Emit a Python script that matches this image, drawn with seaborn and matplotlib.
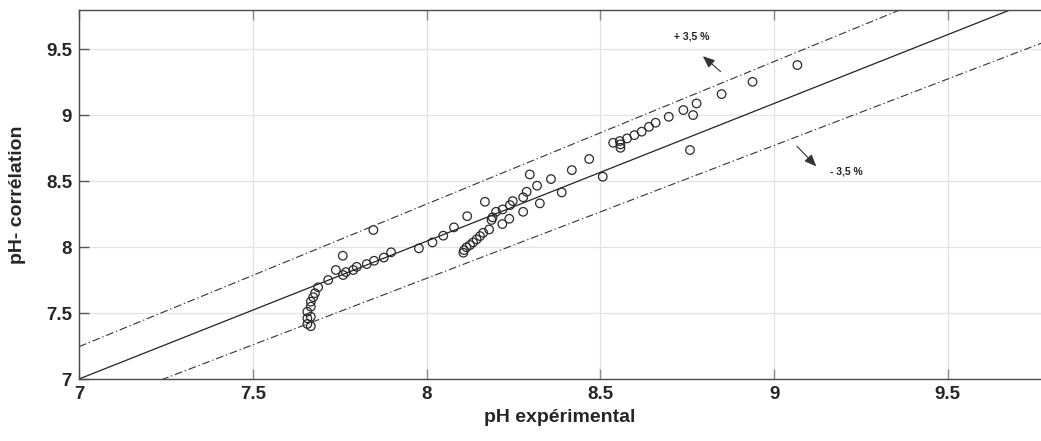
import numpy as np
import pandas as pd
import matplotlib
matplotlib.use("Agg")
import matplotlib.pyplot as plt
import seaborn as sns
from matplotlib import font_manager

# ---------------- data ----------------
ph_experimental = [
    7.657, 7.667, 7.657, 7.667, 7.657, 7.667, 7.667, 7.674, 7.679, 7.688,
    7.717, 7.739, 7.759, 7.760, 7.768, 7.789, 7.799, 7.828, 7.847, 7.849,
    7.877, 7.898, 7.978, 8.017, 8.048, 8.079, 8.117, 8.168,
    8.106, 8.108, 8.115, 8.125, 8.134, 8.144, 8.154, 8.163, 8.180, 8.187,
    8.190, 8.200, 8.219, 8.218, 8.238, 8.240, 8.248, 8.278, 8.278, 8.288,
    8.297, 8.318, 8.326, 8.358, 8.389, 8.418, 8.468, 8.507,
    8.537, 8.556, 8.558, 8.558, 8.577, 8.598, 8.619, 8.640, 8.659, 8.697,
    8.739, 8.767, 8.777, 8.758, 8.849, 8.938, 9.067,
]
ph_correlation = [
    7.417, 7.400, 7.460, 7.472, 7.510, 7.548, 7.586, 7.620, 7.650, 7.695,
    7.750, 7.826, 7.934, 7.788, 7.810, 7.826, 7.850, 7.871, 8.129, 7.896,
    7.920, 7.960, 7.990, 8.035, 8.086, 8.149, 8.234, 8.343,
    7.957, 7.977, 7.998, 8.015, 8.035, 8.058, 8.083, 8.108, 8.133, 8.205,
    8.225, 8.267, 8.285, 8.174, 8.214, 8.318, 8.348, 8.267, 8.377, 8.419,
    8.550, 8.465, 8.331, 8.515, 8.414, 8.583, 8.667, 8.533,
    8.790, 8.803, 8.778, 8.752, 8.823, 8.848, 8.874, 8.911, 8.942, 8.987,
    9.038, 9.000, 9.088, 8.735, 9.159, 9.252, 9.379,
]

# reference line and +/- 3.5 % bands
ref_x = [7.0, 9.8]
ref_y = [7.0, 9.923]
upper_y = [7.245, 10.270]
lower_y = [6.755, 9.576]

x_ticks = [7, 7.5, 8, 8.5, 9, 9.5]
y_ticks = [7, 7.5, 8, 8.5, 9, 9.5]
x_tick_labels = ["7", "7.5", "8", "8.5", "9", "9.5"]
y_tick_labels = ["7", "7.5", "8", "8.5", "9", "9.5"]

label_plus = "+ 3,5 %"
label_minus = "- 3,5 %"
x_label = "pH expérimental"
y_label = "pH- corrélation"

# ---------------- style ----------------
sns.set_theme(style="white")
names = {f.name for f in font_manager.fontManager.ttflist}
fam = ["Liberation Sans Narrow"] if "Liberation Sans Narrow" in names else ["Liberation Sans"]
plt.rcParams["font.family"] = fam + ["DejaVu Sans"]

fig = plt.figure(figsize=(10.41, 4.41), dpi=100)
ax = fig.add_axes([79 / 1041, (441 - 379) / 441, (1041 - 79) / 1041, (379 - 9.5) / 441])

df = pd.DataFrame({"exp": ph_experimental, "corr": ph_correlation})

sns.lineplot(x=ref_x, y=ref_y, ax=ax, color="#222222", linewidth=0.9, zorder=2)
sns.lineplot(x=ref_x, y=upper_y, ax=ax, color="#333333", linewidth=0.8,
             linestyle=(0, (7, 2.5, 1.2, 2.5)), zorder=2)
sns.lineplot(x=ref_x, y=lower_y, ax=ax, color="#333333", linewidth=0.8,
             linestyle=(0, (7, 2.5, 1.2, 2.5)), zorder=2)
sns.scatterplot(data=df, x="exp", y="corr", ax=ax, marker="o", s=38,
                facecolors="none", edgecolor="#2a2a2a", linewidth=0.9, zorder=3)

ax.set_xlim(7.0, 9.768)
ax.set_ylim(7.0, 9.8)
ax.set_xticks(x_ticks)
ax.set_xticklabels(x_tick_labels)
ax.set_yticks(y_ticks)
ax.set_yticklabels(y_tick_labels)
ax.grid(True, color="#e3e3e3", linewidth=0.9)
ax.set_axisbelow(True)

for side in ["left", "bottom", "top"]:
    ax.spines[side].set_visible(True)
    ax.spines[side].set_color("#4a4a4a")
    ax.spines[side].set_linewidth(1.0)
ax.spines["right"].set_visible(False)

ax.tick_params(axis="x", direction="in", length=7, width=1, color="#888888",
               top=True, bottom=True, labelsize=13.5, labelcolor="#262626", pad=5)
ax.tick_params(axis="y", direction="in", length=7, width=1, color="#555555",
               left=True, right=False, labelsize=13.5, labelcolor="#262626", pad=5)
for lab in ax.get_xticklabels() + ax.get_yticklabels():
    lab.set_fontweight("bold")

ax.set_xlabel(x_label, fontsize=14, fontweight="bold", color="#262626", labelpad=4)
ax.set_ylabel(y_label, fontsize=14, fontweight="bold", color="#262626", labelpad=14)

ax.text(8.763, 9.598, label_plus, fontsize=7.5, fontweight="bold", ha="center", va="center",
        color="#222222")
ax.annotate("", xy=(8.789, 9.46), xytext=(8.852, 9.316),
            arrowprops=dict(arrowstyle="-|>,head_length=0.6,head_width=0.25",
                            color="#333333", lw=0.8))
ax.text(9.208, 8.570, label_minus, fontsize=7.5, fontweight="bold", ha="center", va="center",
        color="#222222")
ax.annotate("", xy=(9.127, 8.596), xytext=(9.06, 8.78),
            arrowprops=dict(arrowstyle="-|>,head_length=0.6,head_width=0.25",
                            color="#333333", lw=0.8))

fig.savefig("out.png", dpi=100)
